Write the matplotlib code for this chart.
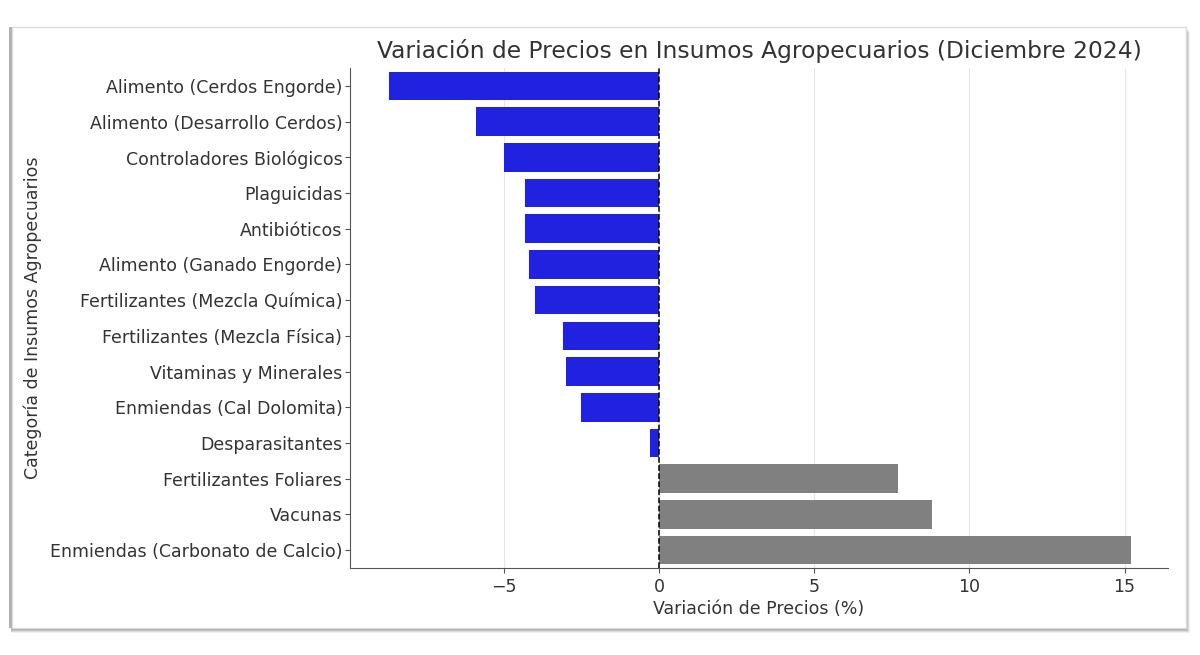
import matplotlib.pyplot as plt
from matplotlib.patches import Rectangle

# data
categories = [
    "Alimento (Cerdos Engorde)",
    "Alimento (Desarrollo Cerdos)",
    "Controladores Biológicos",
    "Plaguicidas",
    "Antibióticos",
    "Alimento (Ganado Engorde)",
    "Fertilizantes (Mezcla Química)",
    "Fertilizantes (Mezcla Física)",
    "Vitaminas y Minerales",
    "Enmiendas (Cal Dolomita)",
    "Desparasitantes",
    "Fertilizantes Foliares",
    "Vacunas",
    "Enmiendas (Carbonato de Calcio)",
]
variacion = [-8.7, -5.9, -5.0, -4.3, -4.3, -4.2, -4.0, -3.1, -3.0, -2.5, -0.3, 7.7, 8.8, 15.2]
xticks = [-5, 0, 5, 10, 15]
xticklabels = ["\u22125", "0", "5", "10", "15"]

colors = ["#2121e0" if v < 0 else "#808080" for v in variacion]

W, H = 1200, 655
fig = plt.figure(figsize=(W / 100, H / 100), dpi=100)
fig.patch.set_facecolor("white")

# screenshot card with a soft shadow (pixel coords -> figure coords)
cx, cy, cw, ch = 12, 27, 1174, 601
for off, a in [(5, 0.12), (4, 0.2), (3, 0.3), (2, 0.4)]:
    fig.patches.append(Rectangle(((cx - 1) / W, 1 - (cy + ch + off) / H), (cw + off) / W, ch / H,
                                 transform=fig.transFigure, facecolor="#888888",
                                 alpha=a, edgecolor="none", zorder=0))
fig.patches.append(Rectangle(((cx - 3) / W, 1 - (cy + ch) / H), 3 / W, ch / H,
                             transform=fig.transFigure, facecolor="#b0b0b0",
                             edgecolor="none", zorder=0))
fig.patches.append(Rectangle((cx / W, 1 - (cy + ch) / H), cw / W, ch / H, transform=fig.transFigure,
                             facecolor="white", edgecolor="#dcdcdc", linewidth=1, zorder=1))

ax = fig.add_axes([350 / W, 1 - 568 / H, 818 / W, 500 / H])
ax.set_zorder(2)
ypos = list(range(len(categories)))
ax.barh(ypos, variacion, height=0.8, color=colors, zorder=2)
ax.axvline(0, color="black", linestyle="--", linewidth=1.1, zorder=3)

ax.set_yticks(ypos)
ax.set_yticklabels(categories, fontsize=12.5)
ax.set_ylim(len(categories) - 0.5, -0.5)
ax.set_xlim(-9.95, 16.4)
ax.set_xticks(xticks)
ax.set_xticklabels(xticklabels, fontsize=12.5)
ax.grid(axis="x", color="#e6e6e6", linewidth=0.8, zorder=0)
ax.set_axisbelow(True)

for s in ["top", "right"]:
    ax.spines[s].set_visible(False)
for s in ["left", "bottom"]:
    ax.spines[s].set_color("#555555")
ax.tick_params(colors="#555555", labelcolor="#333333")
ax.tick_params(axis="y", pad=2)

ax.set_title("Variación de Precios en Insumos Agropecuarios (Diciembre 2024)",
             fontsize=16.8, color="#333333", pad=7)
ax.set_xlabel("Variación de Precios (%)", fontsize=12.5, color="#333333", labelpad=3)
ax.set_ylabel("Categoría de Insumos Agropecuarios", fontsize=12.5, color="#333333", labelpad=6)

fig.savefig("out.png", dpi=100)
